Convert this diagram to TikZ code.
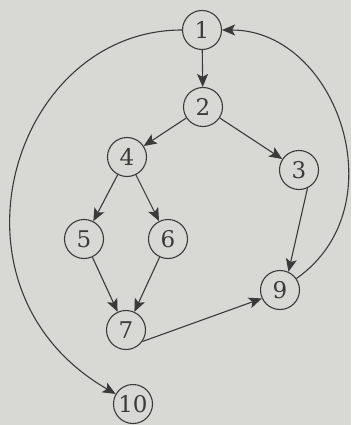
\documentclass[tikz,border=0pt]{standalone}
\usepackage{fontspec}
\setmainfont{DejaVu Serif}
\usetikzlibrary{arrows.meta}
\definecolor{paper}{RGB}{216,216,212}
\definecolor{ink}{RGB}{58,58,58}
\begin{document}
\begin{tikzpicture}[x=1pt, y=1pt, color=ink, line width=1.1pt,
        >={Stealth[length=13pt, width=11pt, inset=3pt]}]
            \fill[paper] (0,0) rectangle (351,-425);
            \useasboundingbox (0,0) rectangle (351,-425);
            {
                \tikzset{every node/.style = {shape=circle, draw, minimum size=39pt, inner sep=0pt, font=\fontsize{23}{27}\selectfont}}

                \node (v1) at (202,-30) {1};
                \node (v2) at (203,-107) {2};
                \node (v3) at (299,-170) {3};
                \node (v4) at (127,-157) {4};
                \node (v5) at (84,-239) {5};
                \node (v6) at (168,-239) {6};
                \node (v7) at (126,-330) {7};
                \node (v9) at (280,-290) {9};
                \node (v10) at (133,-404) {10};
            }

            \draw (v1) edge[->]  (v2);
            \draw (v2) edge[->]  (v4);
            \draw (v2) edge[->]  (v3);
            \draw (v4) edge[->]  (v5);
            \draw (v4) edge[->]  (v6);
            \draw (v5) edge[->]  (v7);
            \draw (v6) edge[->]  (v7);
            \draw (v3.-65) edge[->]  (v9.65);
            \draw (v7.-35) edge[->]  (v9.205);
            \draw (v9) edge[->, out=35, in=0, out distance=125pt, in distance=115pt]  (v1);
            \draw (v1) edge[->, out=180, in=150, out distance=170pt, in distance=210pt]  (v10);

        \end{tikzpicture}
\end{document}
